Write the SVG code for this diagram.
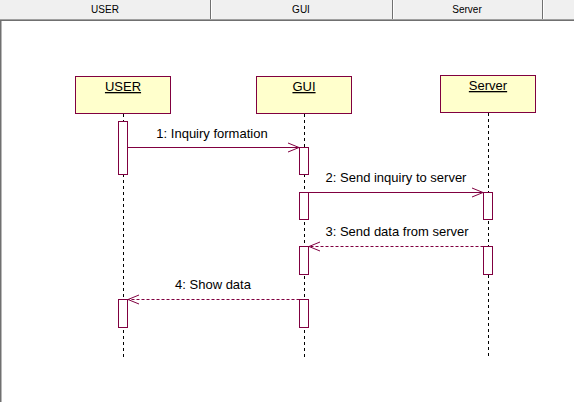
<svg xmlns="http://www.w3.org/2000/svg" width="574" height="402" viewBox="0 0 574 402">
<defs>
<style>
.hdr{font-family:"Liberation Sans",Arial,sans-serif;font-size:10px;fill:#000;text-anchor:middle}
.box{fill:#ffffcc;stroke:#800040;stroke-width:1}
.name{font-family:"Liberation Sans",Arial,sans-serif;font-size:13px;fill:#000;text-anchor:middle;text-decoration:underline}
.life{stroke:#000;stroke-width:1;stroke-dasharray:3,3;fill:none}
.act{fill:#fff;stroke:#800040;stroke-width:1}
.msg{stroke:#800040;stroke-width:1;fill:none}
.ret{stroke:#800040;stroke-width:1;fill:none;stroke-dasharray:3,2}
.lbl{font-family:"Liberation Sans",Arial,sans-serif;font-size:13px;fill:#000;text-anchor:middle}
</style>
<marker id="open" markerWidth="14" markerHeight="12" refX="12" refY="5.5" orient="auto" markerUnits="userSpaceOnUse">
<path d="M1,1 L12,5.5 L1,10" fill="none" stroke="#800040" stroke-width="1"/>
</marker>
</defs>
<rect x="0" y="0" width="574" height="402" fill="#fff"/>
<g id="header">
<rect x="0" y="0" width="574" height="19" fill="#f0f0f0"/>
<rect x="0" y="19" width="574" height="1" fill="#a0a0a0"/>
<rect x="0" y="20" width="574" height="1" fill="#707070"/>
<rect x="210" y="0" width="1" height="19" fill="#707070"/>
<rect x="211" y="0" width="1" height="19" fill="#ffffff"/>
<rect x="392" y="0" width="1" height="19" fill="#707070"/>
<rect x="393" y="0" width="1" height="19" fill="#ffffff"/>
<rect x="542" y="0" width="1" height="19" fill="#707070"/>
<rect x="543" y="0" width="1" height="19" fill="#ffffff"/>
<text class="hdr" x="105" y="13">USER</text>
<text class="hdr" x="301" y="13">GUI</text>
<text class="hdr" x="467" y="13">Server</text>
</g>
<rect x="0" y="21" width="1.5" height="381" fill="#707070"/>
<g id="node-user">
<rect class="box" x="75.5" y="76.5" width="95" height="37"/>
<text class="name" x="123" y="91">USER</text>
<line class="life" x1="123.5" y1="114" x2="123.5" y2="357"/>
<rect class="act" x="118.5" y="121.5" width="9" height="53"/>
<rect class="act" x="118.5" y="299.5" width="9" height="28"/>
</g>
<g id="node-gui">
<rect class="box" x="256.5" y="76.5" width="95" height="37"/>
<text class="name" x="304" y="91">GUI</text>
<line class="life" x1="304.5" y1="114" x2="304.5" y2="357"/>
<rect class="act" x="299.5" y="147.5" width="9" height="27"/>
<rect class="act" x="299.5" y="192.5" width="9" height="27"/>
<rect class="act" x="299.5" y="246.5" width="9" height="28"/>
<rect class="act" x="299.5" y="299.5" width="9" height="28"/>
</g>
<g id="node-server">
<rect class="box" x="440.5" y="75.5" width="95" height="37"/>
<text class="name" x="488" y="90">Server</text>
<line class="life" x1="488.5" y1="113" x2="488.5" y2="357"/>
<rect class="act" x="483.5" y="192.5" width="9" height="27"/>
<rect class="act" x="483.5" y="246.5" width="9" height="28"/>
</g>
<g id="connectors">
<line class="msg" x1="127.5" y1="147.5" x2="299" y2="147.5" marker-end="url(#open)"/>
<text class="lbl" x="212" y="138">1: Inquiry formation</text>
<line class="msg" x1="308.5" y1="192.5" x2="483" y2="192.5" marker-end="url(#open)"/>
<text class="lbl" x="396" y="182">2: Send inquiry to server</text>
<line class="ret" x1="483.5" y1="246.5" x2="309" y2="246.5" marker-end="url(#open)"/>
<text class="lbl" x="397" y="236">3: Send data from server</text>
<line class="ret" x1="299.5" y1="299.5" x2="128" y2="299.5" marker-end="url(#open)"/>
<text class="lbl" x="213" y="289">4: Show data</text>
</g>
</svg>
